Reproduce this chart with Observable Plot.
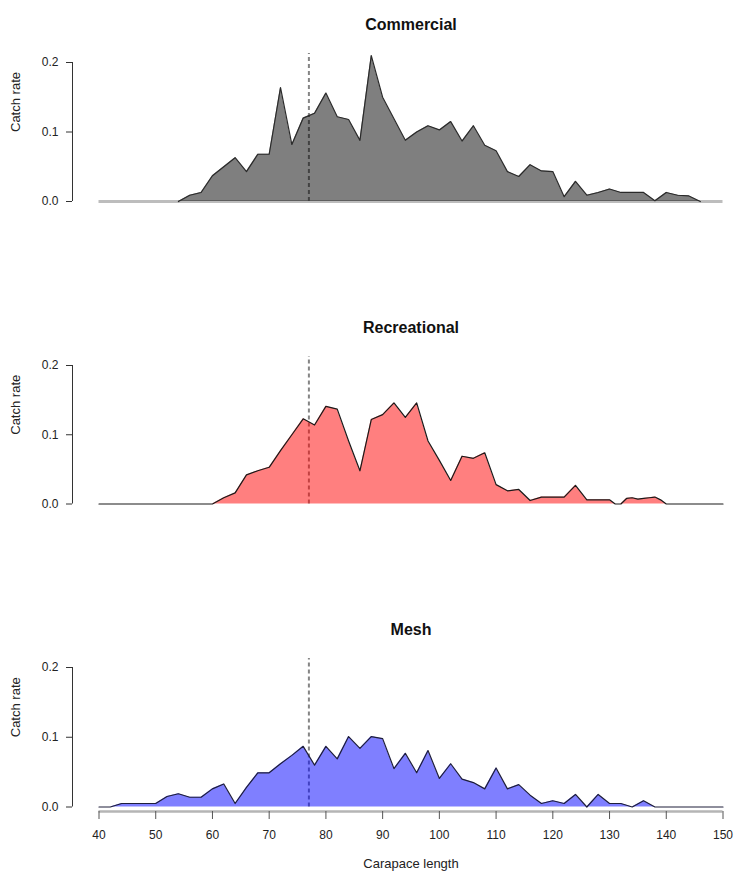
<!DOCTYPE html>
<html>
<head>
<meta charset="utf-8">
<script src="https://cdn.jsdelivr.net/npm/d3@7"></script>
<script src="https://cdn.jsdelivr.net/npm/@observablehq/plot@0.6"></script>
<style>
  html, body { margin: 0; padding: 0; background: #fff; }
  #chart { position: relative; width: 735px; height: 881px; font-family: "Liberation Sans", Arial, sans-serif; }
  #chart svg { position: absolute; left: 0; overflow: visible; }
</style>
</head>
<body>
<div id="chart"></div>
<script>
// ---- Data ----
const panelTitles = ["Commercial", "Recreational", "Mesh"];
const xLabel = "Carapace length";
const yLabel = "Catch rate";
const xTicks = [40, 50, 60, 70, 80, 90, 100, 110, 120, 130, 140, 150];
const yTicks = [0, 0.1, 0.2];
const referenceLength = 77;   // dashed vertical line
const referenceTop = 0.213;

const commercialLength = [40, 54, 56, 58, 60, 62, 64, 66, 68, 70, 72, 74, 76, 78, 80, 82, 84, 86, 88, 90,
  92, 94, 96, 98, 100, 102, 104, 106, 108, 110, 112, 114, 116, 118, 120, 122, 124, 126, 128, 130,
  132, 134, 136, 138, 140, 142, 144, 146, 150];
const commercialRate = [0, 0, 0.009, 0.013, 0.037, 0.050, 0.063, 0.043, 0.068, 0.068, 0.164, 0.082, 0.120, 0.127, 0.156, 0.122, 0.118, 0.088, 0.210, 0.150,
  0.119, 0.088, 0.100, 0.109, 0.103, 0.115, 0.087, 0.109, 0.081, 0.073, 0.043, 0.036, 0.053, 0.044, 0.043, 0.007, 0.029, 0.009, 0.013, 0.018,
  0.013, 0.013, 0.013, 0.001, 0.013, 0.009, 0.008, 0, 0];

const recreationalLength = [40, 60, 62, 64, 66, 68, 70, 72, 74, 76, 78, 80, 82, 84, 86, 88, 90, 92, 94, 96,
  98, 100, 102, 104, 106, 108, 110, 112, 114, 116, 118, 120, 122, 124, 126, 128, 130, 131, 132, 133,
  134, 135, 136, 137, 138, 139, 140, 150];
const recreationalRate = [0, 0, 0.009, 0.016, 0.042, 0.048, 0.053, 0.077, 0.100, 0.123, 0.114, 0.141, 0.137, 0.091, 0.048, 0.122, 0.129, 0.146, 0.125, 0.146,
  0.091, 0.063, 0.034, 0.069, 0.066, 0.074, 0.028, 0.019, 0.021, 0.005, 0.010, 0.010, 0.010, 0.027, 0.006, 0.006, 0.006, 0, 0, 0.008,
  0.009, 0.007, 0.008, 0.009, 0.010, 0.006, 0, 0];

const meshLength = [40, 42, 44, 46, 48, 50, 52, 54, 56, 58, 60, 62, 64, 66, 68, 70, 72, 74, 76, 78,
  80, 82, 84, 86, 88, 90, 92, 94, 96, 98, 100, 102, 104, 106, 108, 110, 112, 114, 116, 118,
  120, 122, 124, 126, 128, 130, 132, 134, 136, 138, 150];
const meshRate = [0, 0, 0.005, 0.005, 0.005, 0.005, 0.015, 0.019, 0.014, 0.014, 0.026, 0.033, 0.005, 0.028, 0.049, 0.049, 0.062, 0.074, 0.087, 0.060,
  0.087, 0.069, 0.101, 0.084, 0.101, 0.098, 0.055, 0.077, 0.049, 0.081, 0.041, 0.062, 0.040, 0.035, 0.026, 0.056, 0.026, 0.032, 0.017, 0.005,
  0.009, 0.005, 0.018, 0, 0.018, 0.005, 0.005, 0, 0.009, 0, 0];

const panelColors = ["#000000", "#ff0000", "#0000ff"];

// ---- Drawing ----
const chart = document.getElementById("chart");
const textColor = "#222";

function makePanel(k, xs, ys, cfg) {
  const data = xs.map((x, i) => ({x, y: ys[i]}));
  const outline = cfg.outlineRange
    ? data.filter(d => d.x >= cfg.outlineRange[0] && d.x <= cfg.outlineRange[1])
    : data;
  const marks = [];
  if (cfg.greyBase) {
    marks.push(Plot.ruleY([0], {x1: xTicks[0], x2: xTicks[xTicks.length - 1], stroke: "#bdbdbd", strokeWidth: 3}));
  }
  marks.push(
    Plot.ruleX([referenceLength], {y1: 0, y2: referenceTop, stroke: "#858585", strokeWidth: 2, strokeDasharray: "4,3"}),
    Plot.areaY(data, {x: "x", y: "y", fill: panelColors[k], fillOpacity: 0.5, curve: "linear"}),
    Plot.lineY(outline, {x: "x", y: "y", stroke: cfg.lineColor, strokeWidth: 1.2, curve: "linear"}),
    // y axis (R style, offset from the plot region)
    Plot.ruleX([xTicks[0]], {y1: yTicks[0], y2: yTicks[yTicks.length - 1], dx: -26.5, stroke: "#333", strokeWidth: 1}),
    Plot.axisY({ticks: yTicks, tickFormat: d3.format(".1f"), tickSize: 6, tickPadding: 8, dx: -26.5,
      label: null, fontSize: 12, stroke: "#333", fill: textColor}),
    Plot.text([yLabel], {frameAnchor: "left", dx: -83.5, rotate: -90, fontSize: 13, fill: textColor}),
    Plot.text([panelTitles[k]], {frameAnchor: "top", dy: -44, fontSize: 16, fontWeight: "bold", fill: "#111"})
  );
  if (cfg.xAxis) {
    marks.push(
      Plot.ruleY([0], {x1: xTicks[0], x2: xTicks[xTicks.length - 1], dy: 4.5, stroke: "#b5b5b5", strokeWidth: 2.5}),
      Plot.axisX({ticks: xTicks, tickSize: 8, tickPadding: 11, dy: 4.5, label: null, fontSize: 12,
        stroke: "#555", fill: textColor}),
      Plot.text([xLabel], {frameAnchor: "bottom", dy: 60.5, fontSize: 13, fill: textColor})
    );
  }
  const svg = Plot.plot({
    width: 735,
    height: cfg.height,
    marginLeft: 98.5,
    marginRight: 12.5,
    marginTop: 60,
    marginBottom: cfg.marginBottom,
    x: {domain: [xTicks[0], xTicks[xTicks.length - 1]], axis: cfg.xAxis ? undefined : null},
    y: {domain: [0, 0.2]},
    style: {fontFamily: "'Liberation Sans', Arial, sans-serif", color: textColor, background: "transparent", overflow: "visible"},
    marks
  });
  svg.style.top = cfg.top + "px";
  chart.appendChild(svg);
}

makePanel(0, commercialLength, commercialRate, {top: 2, height: 214, marginBottom: 15, lineColor: "#2a2a2a", outlineRange: [54, 146], greyBase: true});
makePanel(1, recreationalLength, recreationalRate, {top: 304.5, height: 213.5, marginBottom: 15, lineColor: "#1a1a1a"});
makePanel(2, meshLength, meshRate, {top: 607, height: 274, marginBottom: 74.5, lineColor: "#1e1e3a", xAxis: true});
</script>
</body>
</html>
